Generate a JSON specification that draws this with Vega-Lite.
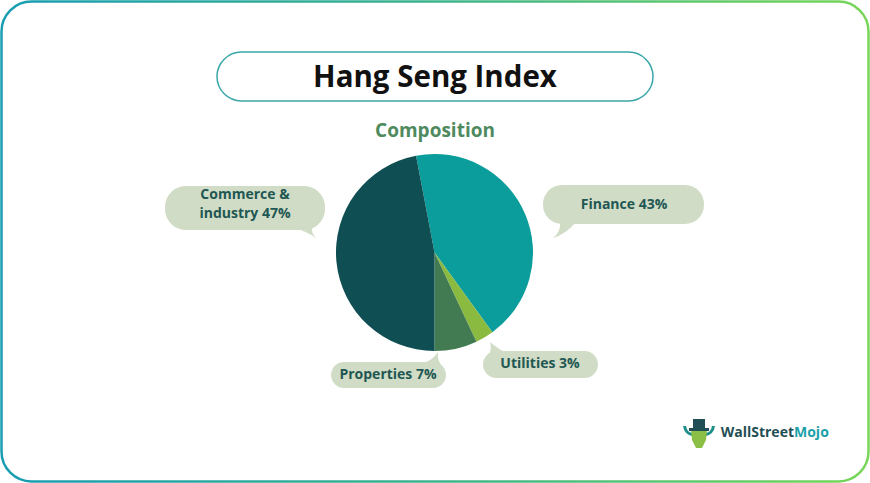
{
  "$schema": "https://vega.github.io/schema/vega-lite/v6.json",
  "width": 870,
  "height": 483,
  "padding": 0,
  "autosize": {"type": "fit", "contains": "padding"},
  "background": "#ffffff",
  "config": {"view": {"stroke": null}},
  "data": {"values": [
    {"idx": 1, "category": "Finance", "share": 43, "label": "Finance 43%"},
    {"idx": 2, "category": "Utilities", "share": 3, "label": "Utilities 3%"},
    {"idx": 3, "category": "Properties", "share": 7, "label": "Properties 7%"},
    {"idx": 4, "category": "Commerce & industry", "share": 47, "label": "Commerce &\nindustry 47%"}
  ]},
  "layer": [
    {
      "data": {"values": [{"k": "frame"}]},
      "mark": {"type": "rect", "cornerRadius": 30, "fill": "#ffffff", "strokeWidth": 2.5,
        "stroke": {"gradient": "linear", "stops": [{"offset": 0, "color": "#189db2"}, {"offset": 0.5, "color": "#3cb38c"}, {"offset": 1, "color": "#78d658"}]}},
      "encoding": {"x": {"value": 1.5}, "x2": {"value": 868.5}, "y": {"value": 1.5}, "y2": {"value": 481.5}}
    },
    {
      "data": {"values": [{"k": "titlebox"}]},
      "mark": {"type": "rect", "cornerRadius": 24.5, "fill": "#ffffff", "stroke": "#3aa7a8", "strokeWidth": 1.5},
      "encoding": {"x": {"value": 217}, "x2": {"value": 653}, "y": {"value": 52}, "y2": {"value": 101}}
    },
    {
      "data": {"values": [{"t": "Hang Seng Index"}]},
      "mark": {"type": "text", "font": "Open Sans", "fontWeight": "bold", "fontSize": 29.5, "color": "#111111", "align": "center", "baseline": "alphabetic"},
      "encoding": {"x": {"value": 435}, "y": {"value": 86.5}, "text": {"field": "t"}}
    },
    {
      "data": {"values": [{"t": "Composition"}]},
      "mark": {"type": "text", "font": "Open Sans", "fontWeight": "bold", "fontSize": 19, "color": "#4e8a5d", "align": "center", "baseline": "alphabetic"},
      "encoding": {"x": {"value": 435}, "y": {"value": 137}, "text": {"field": "t"}}
    },
    {
      "mark": {"type": "arc", "outerRadius": 98.5},
      "encoding": {
        "x": {"value": 434.5},
        "y": {"value": 252.5},
        "theta": {"field": "share", "type": "quantitative", "stack": true, "scale": {"range": [-0.1885, 6.0947]}},
        "order": {"field": "idx", "type": "quantitative"},
        "color": {"field": "category", "type": "nominal", "legend": null,
          "scale": {"domain": ["Finance", "Utilities", "Properties", "Commerce & industry"], "range": ["#0a9d9b", "#8bba41", "#427b52", "#0f4e52"]}}
      }
    },
    {
      "data": {"values": [{"k": "b1"}]},
      "mark": {"type": "rect", "cornerRadius": 21, "fill": "#d1dcc6"},
      "encoding": {"x": {"value": 165}, "x2": {"value": 325}, "y": {"value": 186}, "y2": {"value": 230}}
    },
    {
      "data": {"values": [{"k": "t1"}]},
      "mark": {"type": "point", "filled": true, "size": 4, "fill": "#d1dcc6", "opacity": 1, "strokeWidth": 0,
        "shape": "M-10,-4 Q8,2 16,8 Q10,2 13,-4 Z"},
      "encoding": {"x": {"value": 300}, "y": {"value": 230}}
    },
    {
      "data": {"values": [{"k": "b2"}]},
      "mark": {"type": "rect", "cornerRadius": 19, "fill": "#d1dcc6"},
      "encoding": {"x": {"value": 543}, "x2": {"value": 704}, "y": {"value": 185}, "y2": {"value": 224}}
    },
    {
      "data": {"values": [{"k": "t2"}]},
      "mark": {"type": "point", "filled": true, "size": 4, "fill": "#d1dcc6", "opacity": 1, "strokeWidth": 0,
        "shape": "M0,-8 Q1,2 -7,8 Q6,4 16,-8 Z"},
      "encoding": {"x": {"value": 560}, "y": {"value": 230}}
    },
    {
      "data": {"values": [{"k": "b3"}]},
      "mark": {"type": "rect", "cornerRadius": 13, "fill": "#d1dcc6"},
      "encoding": {"x": {"value": 331}, "x2": {"value": 446}, "y": {"value": 362}, "y2": {"value": 388}}
    },
    {
      "data": {"values": [{"k": "t3"}]},
      "mark": {"type": "point", "filled": true, "size": 4, "fill": "#d1dcc6", "opacity": 1, "strokeWidth": 0,
        "shape": "M-14,3 Q1,-1 6,-10 Q5,-3 9,3 Z"},
      "encoding": {"x": {"value": 432}, "y": {"value": 362}}
    },
    {
      "data": {"values": [{"k": "b4"}]},
      "mark": {"type": "rect", "cornerRadius": 13.5, "fill": "#d1dcc6"},
      "encoding": {"x": {"value": 483}, "x2": {"value": 598}, "y": {"value": 351}, "y2": {"value": 378}}
    },
    {
      "data": {"values": [{"k": "t4"}]},
      "mark": {"type": "point", "filled": true, "size": 4, "fill": "#d1dcc6", "opacity": 1, "strokeWidth": 0,
        "shape": "M-1,3 Q2,-4 0,-10 Q8,-3 20,3 Z"},
      "encoding": {"x": {"value": 490}, "y": {"value": 352}}
    },
    {
      "transform": [{"filter": "datum.category === 'Commerce & industry'"}],
      "mark": {"type": "text", "font": "Open Sans", "fontWeight": "bold", "fontSize": 14, "color": "#1f5753", "align": "center", "baseline": "middle", "lineBreak": "\n", "lineHeight": 19},
      "encoding": {"x": {"value": 245}, "y": {"value": 195}, "text": {"field": "label"}}
    },
    {
      "transform": [{"filter": "datum.category === 'Finance'"}],
      "mark": {"type": "text", "font": "Open Sans", "fontWeight": "bold", "fontSize": 14, "color": "#1f5753", "align": "center", "baseline": "middle"},
      "encoding": {"x": {"value": 624}, "y": {"value": 205}, "text": {"field": "label"}}
    },
    {
      "transform": [{"filter": "datum.category === 'Properties'"}],
      "mark": {"type": "text", "font": "Open Sans", "fontWeight": "bold", "fontSize": 14, "color": "#1f5753", "align": "center", "baseline": "middle"},
      "encoding": {"x": {"value": 388}, "y": {"value": 375}, "text": {"field": "label"}}
    },
    {
      "transform": [{"filter": "datum.category === 'Utilities'"}],
      "mark": {"type": "text", "font": "Open Sans", "fontWeight": "bold", "fontSize": 14, "color": "#1f5753", "align": "center", "baseline": "middle"},
      "encoding": {"x": {"value": 540}, "y": {"value": 364}, "text": {"field": "label"}}
    },
    {
      "data": {"values": [{"k": "horns"}]},
      "mark": {"type": "point", "filled": true, "size": 4, "fill": "#1f8f8a", "opacity": 1, "strokeWidth": 0,
        "shape": "M-16,-6 Q-15,2 -7,4 L-7,1 Q-12,0 -13,-6 Z M16,-6 Q15,2 7,4 L7,1 Q12,0 13,-6 Z"},
      "encoding": {"x": {"value": 699}, "y": {"value": 432}}
    },
    {
      "data": {"values": [{"k": "head"}]},
      "mark": {"type": "point", "filled": true, "size": 4, "fill": "#8bbf45", "opacity": 1, "strokeWidth": 0,
        "shape": "M-8,-2 L8,-2 L7,8 L3,16 L-3,16 L-7,8 Z"},
      "encoding": {"x": {"value": 699}, "y": {"value": 432}}
    },
    {
      "data": {"values": [{"k": "hat"}]},
      "mark": {"type": "point", "filled": true, "size": 4, "fill": "#1f4f55", "opacity": 1, "strokeWidth": 0,
        "shape": "M-6,-13 L6,-13 L6,-4 L10,-4 L10,-1 L-10,-1 L-10,-4 L-6,-4 Z"},
      "encoding": {"x": {"value": 699}, "y": {"value": 432}}
    },
    {
      "data": {"values": [{"t": "WallStreet"}]},
      "mark": {"type": "text", "font": "Open Sans", "fontWeight": "bold", "fontSize": 14, "color": "#1f4f55", "align": "right", "baseline": "middle"},
      "encoding": {"x": {"value": 794}, "y": {"value": 433}, "text": {"field": "t"}}
    },
    {
      "data": {"values": [{"t": "Mojo"}]},
      "mark": {"type": "text", "font": "Open Sans", "fontWeight": "bold", "fontSize": 14, "color": "#1aa0a8", "align": "left", "baseline": "middle"},
      "encoding": {"x": {"value": 794}, "y": {"value": 433}, "text": {"field": "t"}}
    }
  ]
}
